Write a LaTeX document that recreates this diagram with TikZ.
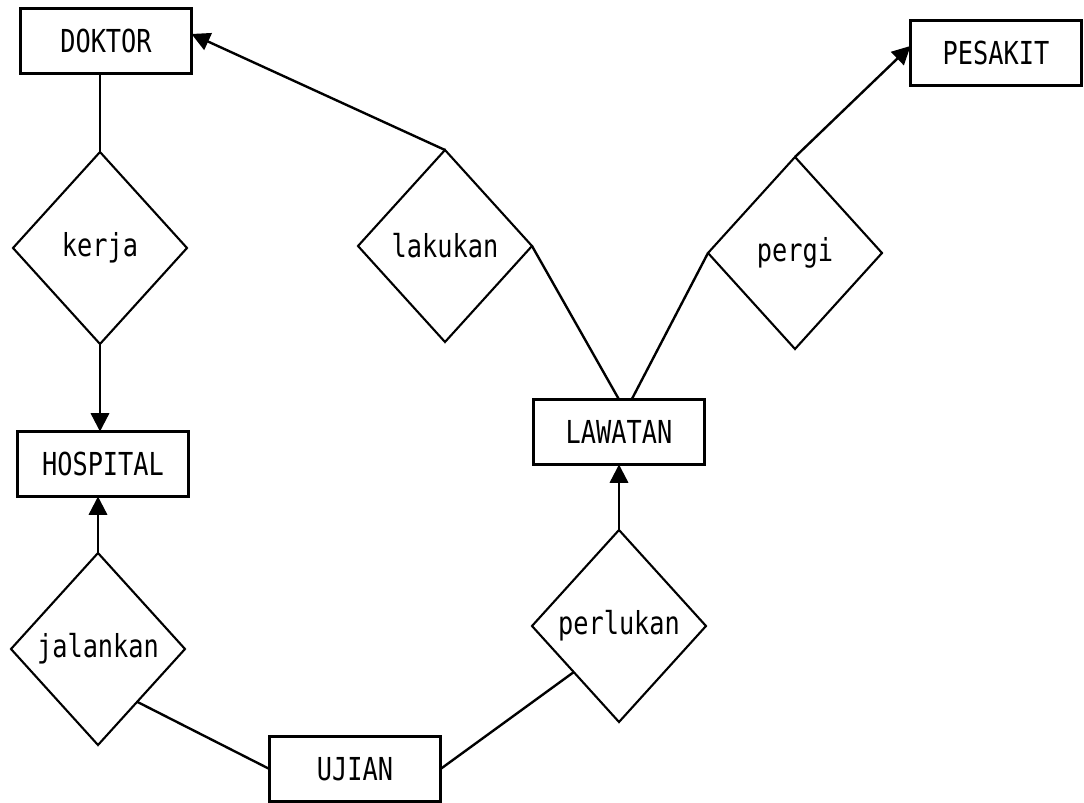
\documentclass[tikz,border=0pt]{standalone}
\usepackage{fontspec}
\newfontfamily\plotfont[FakeStretch=0.8]{DejaVu Sans Mono}
\usetikzlibrary{shapes.geometric,arrows.meta,calc}
\begin{document}
\begin{tikzpicture}[scale=1.0,
  every node/.style={font=\plotfont\fontsize{22.5}{26}\selectfont},
  ent/.style={draw, line width=1.6pt, minimum width=4.275cm, minimum height=1.625cm, inner sep=0pt, outer sep=0pt},
  rel/.style={draw, diamond, line width=1.5pt, minimum width=4.35cm, minimum height=4.8cm, inner sep=0pt, outer sep=0pt},
  lnk/.style={line width=1.7pt},
  arr/.style={line width=1.7pt, -{Triangle[length=13pt,width=13pt]}}]
  \useasboundingbox (0,0) rectangle (27.1,20.05);
  \node[ent] (DOK) at (2.65,19.025) {DOKTOR};
  \node[ent] (PES) at (24.9,18.725) {PESAKIT};
  \node[ent] (HOS) at (2.575,8.45) {HOSPITAL};
  \node[ent] (LAW) at (15.475,9.25) {LAWATAN};
  \node[ent] (UJI) at (8.875,0.825) {UJIAN};
  \node[rel] (kerja) at (2.5,13.85) {kerja};
  \node[rel] (lakukan) at (11.125,13.9) {lakukan};
  \node[rel] (pergi) at (19.875,13.725) {pergi};
  \node[rel] (jalankan) at (2.45,3.825) {jalankan};
  \node[rel] (perlukan) at (15.475,4.4) {perlukan};
  \draw[lnk] (kerja.north) -- (kerja.north |- DOK.south);
  \draw[arr] (kerja.south) -- (kerja.south |- HOS.north);
  \draw[arr] (jalankan.north) -- (jalankan.north |- HOS.south);
  \draw[arr] (lakukan.north) -- ([yshift=5pt]DOK.east);
  \draw[arr] (pergi.north) -- ([yshift=5pt]PES.west);
  \draw[lnk] (lakukan.east) -- (LAW.north);
  \draw[lnk] (pergi.west) -- ([xshift=9pt]LAW.north);
  \draw[arr] (perlukan.north) -- (perlukan.north |- LAW.south);
  \draw[lnk] ($(jalankan.east)!0.55!(jalankan.south)$) -- (UJI.west);
  \draw[lnk] ($(perlukan.west)!0.48!(perlukan.south)$) -- (UJI.east);
\end{tikzpicture}
\end{document}
